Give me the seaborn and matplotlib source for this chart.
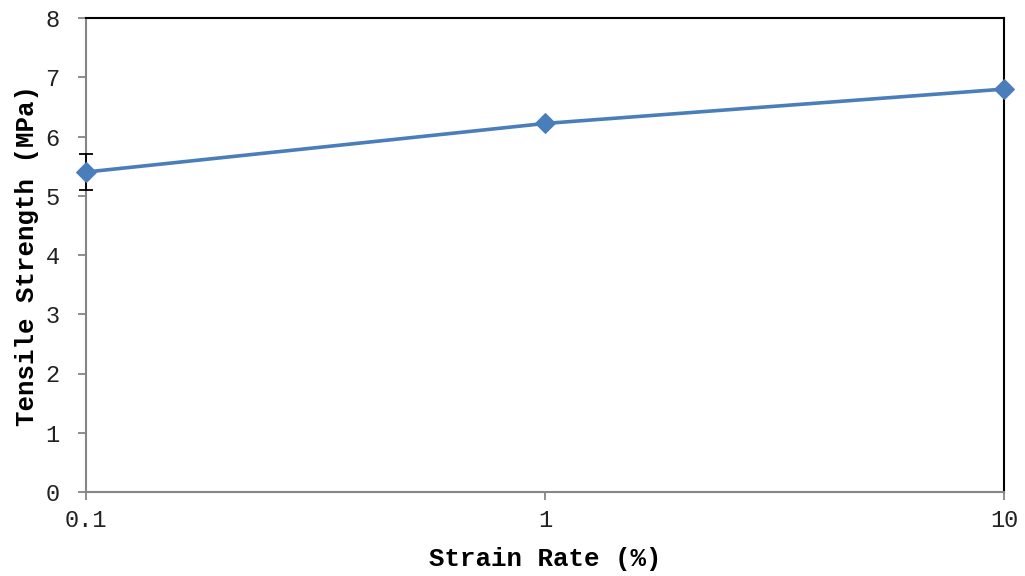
import matplotlib
matplotlib.use("Agg")
import matplotlib.pyplot as plt
import seaborn as sns
import pandas as pd
from matplotlib.ticker import FixedLocator, FixedFormatter, NullLocator

strain_rate = [0.1, 1, 10]
tensile_strength = [5.4, 6.22, 6.8]
error = [0.3, 0.0, 0.0]
x_tick_labels = ["0.1", "1", "10"]
y_ticks = [0, 1, 2, 3, 4, 5, 6, 7, 8]

sns.set_theme(style="white")
plt.rcParams['font.family'] = ['Liberation Mono', 'DejaVu Sans']

df = pd.DataFrame({"Strain Rate": strain_rate, "Tensile Strength": tensile_strength})

fig = plt.figure(figsize=(10.25, 5.76), dpi=100)
ax = fig.add_axes([86/1025, 1-492/576, (1004-86)/1025, (492-18)/576])

color = "#4A7EBB"
eb = ax.errorbar(strain_rate, tensile_strength, yerr=error, fmt='none', ecolor='black',
                 elinewidth=1.3, capsize=4.8, capthick=1.3, zorder=4)
for artist in eb.get_children():
    artist.set_clip_on(False)
sns.lineplot(data=df, x="Strain Rate", y="Tensile Strength", ax=ax, color=color,
             marker='D', markersize=10, markeredgecolor=color, linewidth=2.6, zorder=5,
             clip_on=False)

ax.set_xscale('log')
ax.set_xlim(0.1, 10)
ax.set_ylim(0, 8)
ax.xaxis.set_major_locator(FixedLocator(strain_rate))
ax.xaxis.set_major_formatter(FixedFormatter(x_tick_labels))
ax.xaxis.set_minor_locator(NullLocator())
ax.set_yticks(y_ticks)

for s in ['left', 'bottom']:
    ax.spines[s].set_color('#868686')
    ax.spines[s].set_linewidth(1.5)
for s in ['top', 'right']:
    ax.spines[s].set_color('black')
    ax.spines[s].set_linewidth(1.5)

ax.tick_params(axis='both', which='major', direction='out', length=6, width=1.3,
               color='#868686', labelsize=17, labelcolor='#222222',
               bottom=True, left=True)
ax.tick_params(axis='x', pad=6)
ax.tick_params(axis='y', pad=13)

ax.set_xlabel("Strain Rate (%)", fontsize=18.5, fontweight='bold', labelpad=11, color='black')
ax.set_ylabel("Tensile Strength (MPa)", fontsize=18.5, fontweight='bold', labelpad=5, color='black')

fig.savefig("out.png", dpi=100)
